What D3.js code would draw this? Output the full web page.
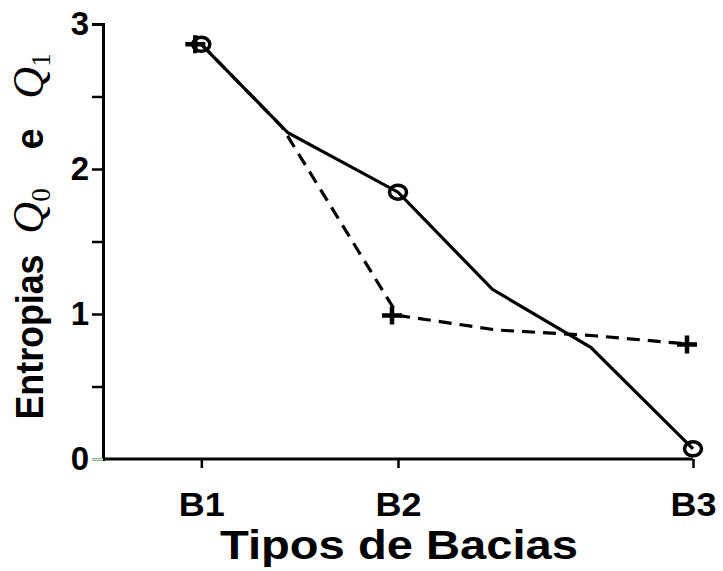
<!DOCTYPE html>
<html>
<head>
<meta charset="utf-8">
<script src="https://cdn.jsdelivr.net/npm/d3@7"></script>
<style>
  html, body { margin: 0; padding: 0; background: #fff; }
  svg { display: block; }
</style>
</head>
<body>
<svg id="chart" width="723" height="571"></svg>
<script>
// Basin types and their position on the horizontal axis
const categories = ["B1", "B2", "B3"];
const categoryX = [1, 2, 3.5];

// Entropy Q0 (solid line, circle markers) at each basin
const q0Values = [2.86, 1.84, 0.07];
// Entropy Q1 (dashed line, cross markers) at each basin
const q1Values = [2.86, 0.99, 0.79];

// Traced curves between the basins
const q0CurveX = [1, 1.44, 2, 2.48, 2.98, 3.5];
const q0CurveY = [2.86, 2.25, 1.84, 1.17, 0.77, 0.07];
const q1CurveX = [1, 1.41, 2, 2.5, 3, 3.5];
const q1CurveY = [2.86, 2.29, 0.99, 0.89, 0.85, 0.79];

const yTicks = [0, 0.5, 1, 1.5, 2, 2.5, 3];

const svg = d3.select("#chart");
const sans = "'Liberation Sans', Arial, sans-serif";
const serif = "'Liberation Serif', 'Times New Roman', serif";

const x = d3.scaleLinear().domain([0.5, 3.5]).range([103, 693]);
const y = d3.scaleLinear().domain([0, 3]).range([459, 24]);

// Y axis
const yAxis = svg.append("g")
  .attr("transform", `translate(${x(0.5)},0)`)
  .call(d3.axisLeft(y).tickValues(yTicks).tickSize(11).tickPadding(3)
    .tickFormat(d => Number.isInteger(d) ? d3.format("d")(d) : ""));
yAxis.select(".domain").attr("stroke", "#000").attr("stroke-width", 3);
yAxis.selectAll(".tick line").attr("stroke", "#000").attr("stroke-width", 2.5);
yAxis.selectAll(".tick").filter(d => d === 0).select("line").attr("stroke", "#c9efc9");
yAxis.selectAll(".tick text")
  .attr("font-family", sans).attr("font-weight", "bold")
  .attr("font-size", 33).attr("fill", "#000");

// X axis
const xAxis = svg.append("g")
  .attr("transform", `translate(0,${y(0)})`)
  .call(d3.axisBottom(x).tickValues(categoryX).tickSize(9).tickPadding(24)
    .tickFormat((d, i) => categories[i]));
xAxis.select(".domain").attr("stroke", "#000").attr("stroke-width", 3)
  .attr("d", `M${x(0.5)},0H${x(3.5)}`);
xAxis.selectAll(".tick line").attr("stroke", "#000").attr("stroke-width", 2.5);
xAxis.selectAll(".tick text")
  .attr("font-family", sans).attr("font-weight", "bold")
  .attr("font-size", 34).attr("fill", "#000")
  .attr("textLength", 46).attr("lengthAdjust", "spacingAndGlyphs");

// Curves
const line = d3.line().x(d => x(d[0])).y(d => y(d[1]));
const q0Curve = d3.zip(q0CurveX, q0CurveY);
const q1Curve = d3.zip(q1CurveX, q1CurveY);

svg.append("path").datum(q1Curve)
  .attr("d", line).attr("fill", "none").attr("stroke", "#000")
  .attr("stroke-width", 3.2).attr("stroke-dasharray", "13,8");
svg.append("path").datum(q0Curve)
  .attr("d", line).attr("fill", "none").attr("stroke", "#000")
  .attr("stroke-width", 3.2);

// Cross markers (Q1), drawn a little left of the basin position
const crossShift = -6;
svg.append("g").selectAll("path")
  .data(d3.zip(categoryX, q1Values))
  .join("path")
  .attr("transform", d => `translate(${x(d[0]) + crossShift},${y(d[1])})`)
  .attr("d", "M-10,0H10M0,-9V9")
  .attr("stroke", "#000").attr("stroke-width", 4.5).attr("fill", "none");

// Circle markers (Q0)
svg.append("g").selectAll("ellipse")
  .data(d3.zip(categoryX, q0Values))
  .join("ellipse")
  .attr("cx", d => x(d[0])).attr("cy", d => y(d[1]))
  .attr("rx", 8.5).attr("ry", 7)
  .attr("fill", "none").attr("stroke", "#000").attr("stroke-width", 3.5);

// X axis title
svg.append("text")
  .attr("x", 399).attr("y", 559)
  .attr("text-anchor", "middle")
  .attr("font-family", sans).attr("font-weight", "bold").attr("font-size", 40)
  .attr("textLength", 358).attr("lengthAdjust", "spacingAndGlyphs")
  .text("Tipos de Bacias");

// Y axis title, written bottom-to-top in pieces
const yTitle = svg.append("g").attr("fill", "#000");
yTitle.append("text")
  .attr("transform", "translate(43,337) rotate(-90)")
  .attr("text-anchor", "middle")
  .attr("font-family", sans).attr("font-weight", "bold").attr("font-size", 38)
  .attr("textLength", 165).attr("lengthAdjust", "spacingAndGlyphs")
  .text("Entropias");

function qSymbol(cy, sub) {
  const t = yTitle.append("text")
    .attr("transform", `translate(43,${cy}) rotate(-90)`)
    .attr("text-anchor", "middle");
  t.append("tspan").attr("font-family", serif).attr("font-style", "italic")
    .attr("font-size", 44).text("Q");
  t.append("tspan").attr("dy", 7).attr("font-family", serif)
    .attr("font-size", 27).text(sub);
}
qSymbol(211, "0");
qSymbol(76, "1");

yTitle.append("text")
  .attr("transform", "translate(43,139) rotate(-90)")
  .attr("text-anchor", "middle")
  .attr("font-family", sans).attr("font-weight", "bold").attr("font-size", 38)
  .text("e");
</script>
</body>
</html>
